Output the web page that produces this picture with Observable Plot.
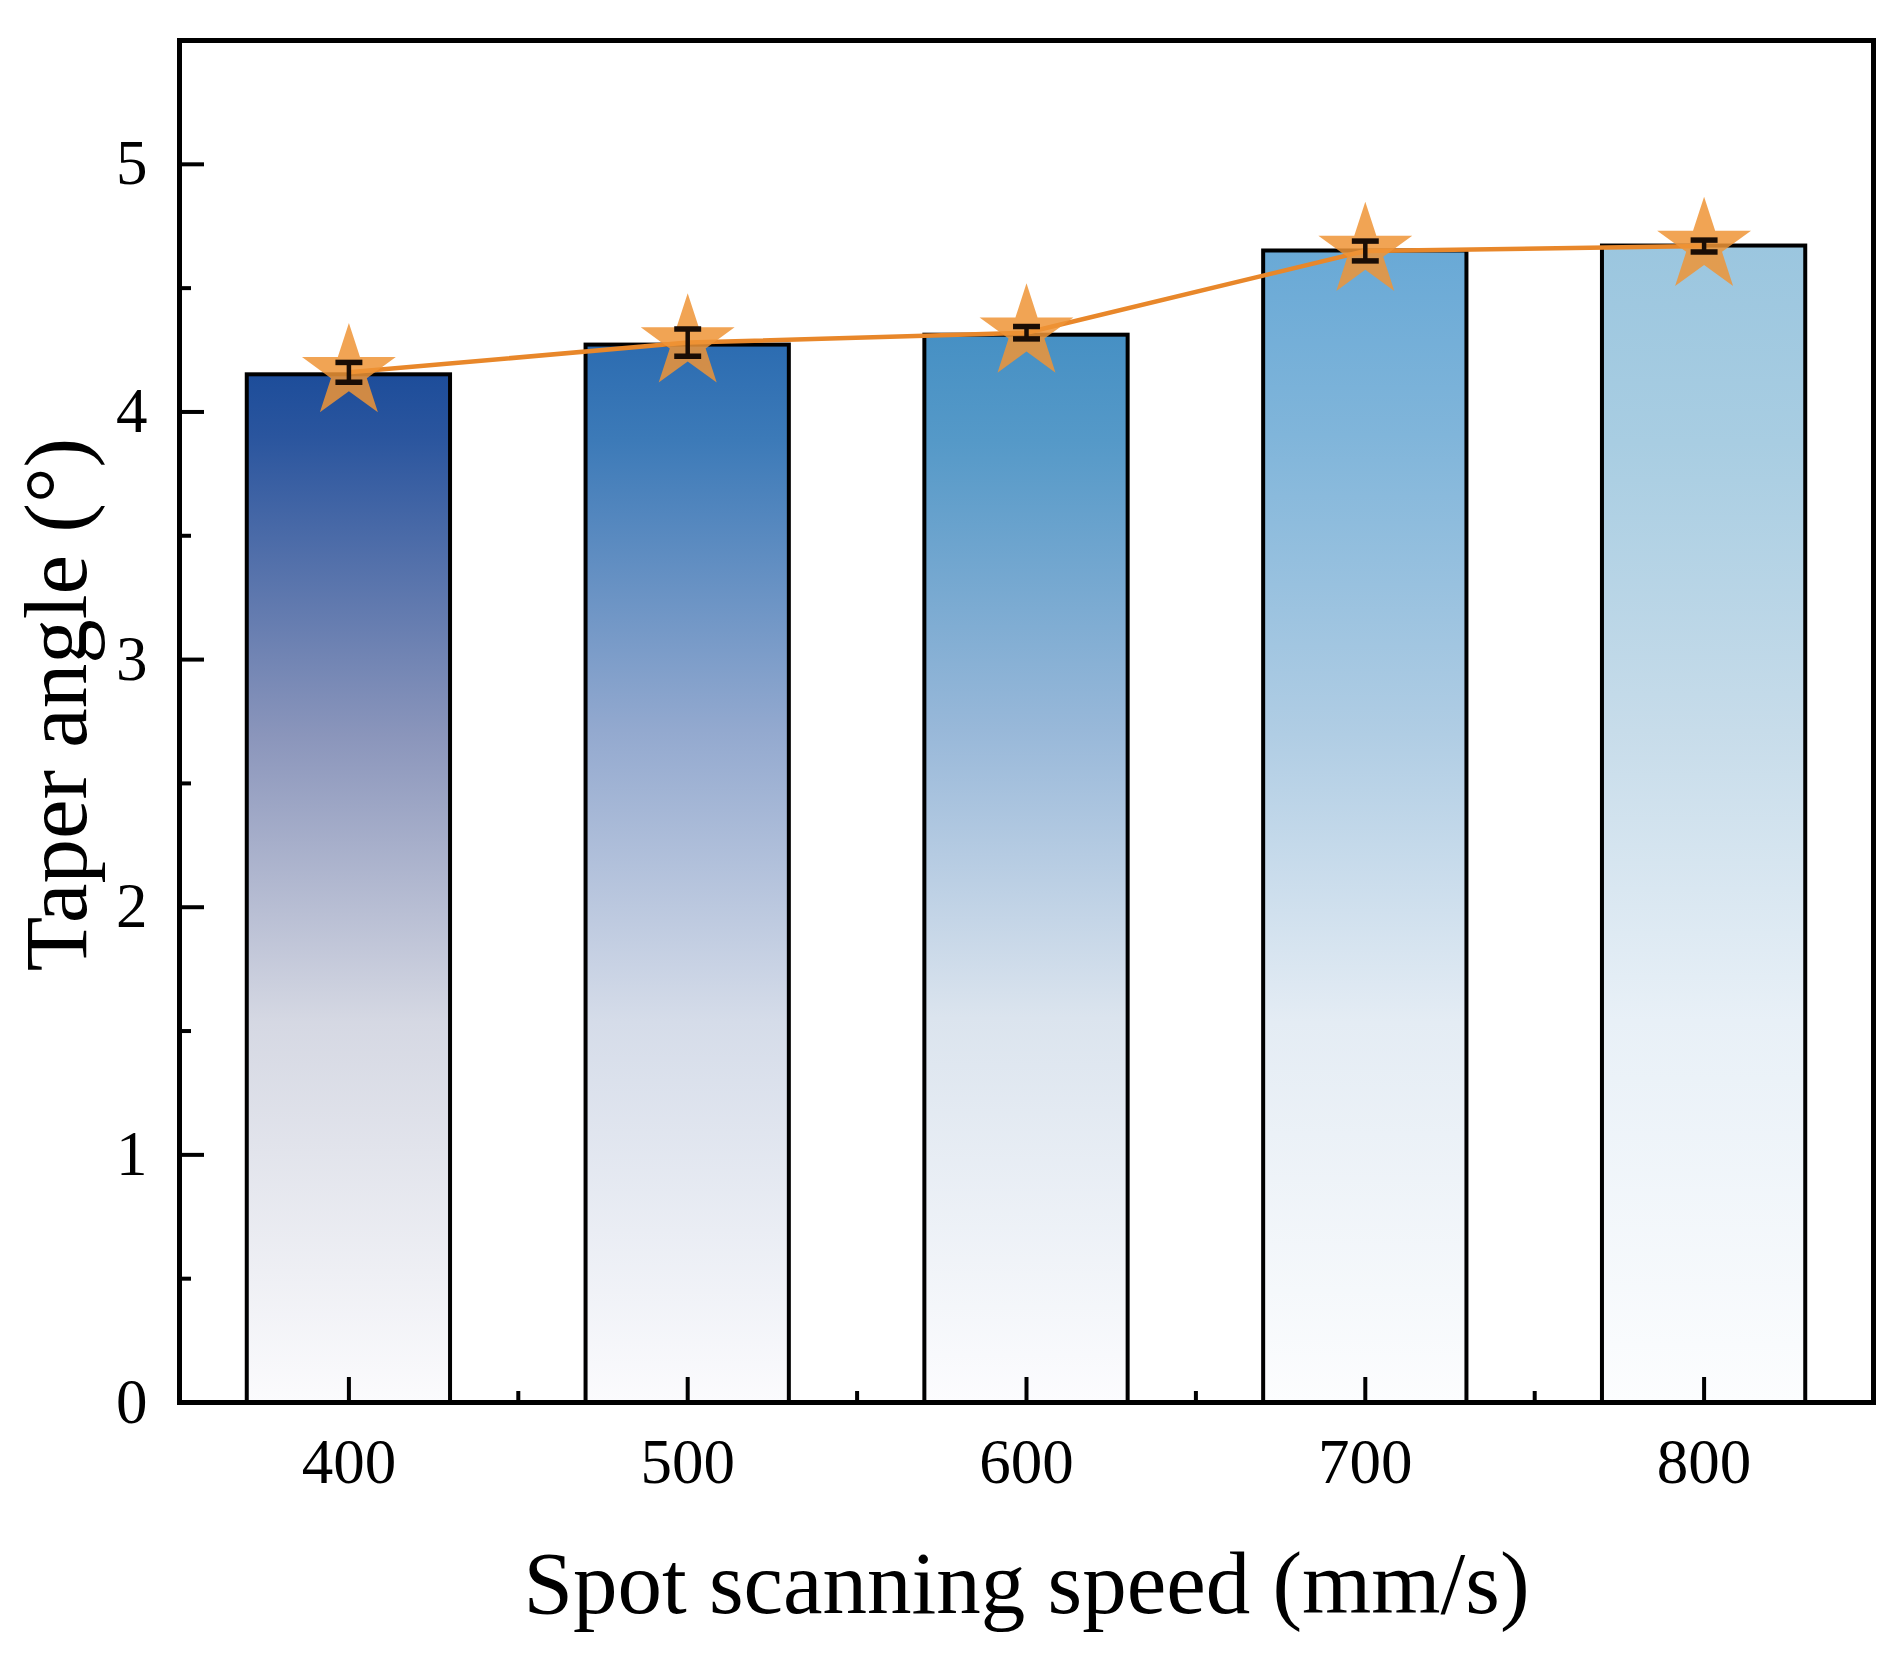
<!DOCTYPE html>
<html>
<head>
<meta charset="utf-8">
<script src="https://cdn.jsdelivr.net/npm/d3@7"></script>
<script src="https://cdn.jsdelivr.net/npm/@observablehq/plot@0.6"></script>
<style>
  html, body { margin: 0; padding: 0; background: #fff; }
  #chart svg { display: block; }
</style>
</head>
<body>
<div id="chart"></div>
<script>
// ---- data ----
const speeds = [400, 500, 600, 700, 800];          // spot scanning speed (mm/s)
const barAngle = [4.15, 4.27, 4.31, 4.65, 4.67];    // bar heights (°)
const meanAngle = [4.16, 4.28, 4.32, 4.65, 4.67];   // star / line values (°)
const errAngle = [0.04, 0.055, 0.025, 0.04, 0.024]; // error half-widths (°)
const yTicks = [0, 1, 2, 3, 4, 5];
const yMinorTicks = [0.5, 1.5, 2.5, 3.5, 4.5];
const xTicks = [400, 500, 600, 700, 800];
const xMinorTicks = [450, 550, 650, 750];
const xLabel = "Spot scanning speed (mm/s)";
const yLabel = "Taper angle (°)";

// ---- styles ----
const barHalfWidth = 30;
const gradientStops = [
  [[0, "#1d4d9a"], [0.06, "#2a559e"], [0.35, "#8a95bb"], [0.63, "#d5d8e3"], [1, "#fbfbfd"]],
  [[0, "#2c6cb1"], [0.09, "#3c7ab8"], [0.365, "#93a9cf"], [0.64, "#d5dce9"], [1, "#fbfbfd"]],
  [[0, "#4690c4"], [0.10, "#5599c8"], [0.37, "#98b8d9"], [0.64, "#dbe4ee"], [1, "#fcfcfe"]],
  [[0, "#69a9d6"], [0.16, "#80b5da"], [0.42, "#b0cde4"], [0.67, "#e4ecf4"], [1, "#fcfdfe"]],
  [[0, "#9bc6df"], [0.17, "#a8cde2"], [0.42, "#c7dcea"], [0.67, "#e8f0f7"], [1, "#fcfdfe"]]
];

const data = speeds.map((s, i) => ({
  speed: s, bar: barAngle[i], mean: meanAngle[i], err: errAngle[i], fill: `url(#barGrad${i})`
}));

const capSymbol = {
  draw(context, size) {
    const w = Math.sqrt(size) / 2;
    context.moveTo(-w, 0);
    context.lineTo(w, 0);
  }
};

const noText = () => "";

const plot = Plot.plot({
  width: 1895,
  height: 1670,
  marginLeft: 179,
  marginRight: 22,
  marginTop: 40,
  marginBottom: 268,
  x: { domain: [350, 850] },
  y: { domain: [0, 5.5] },
  color: { type: "identity" },
  style: { fontFamily: "'Liberation Serif', 'Times New Roman', serif", fontSize: "63px", color: "#000", background: "#fff" },
  marks: [
    Plot.rectY(data, {
      x1: d => d.speed - barHalfWidth, x2: d => d.speed + barHalfWidth,
      y1: 0, y2: "bar", fill: "fill", stroke: "#000", strokeWidth: 4
    }),
    Plot.line(data, { x: "speed", y: "mean", stroke: "#e8872a", strokeWidth: 4.5 }),
    Plot.dot(data, { x: "speed", y: "mean", symbol: "star", r: 29.5, fill: "#ef9436", fillOpacity: 0.85, stroke: "none" }),
    Plot.ruleX(data, { x: "speed", y1: d => d.mean - d.err, y2: d => d.mean + d.err, stroke: "#1a0d05", strokeWidth: 4.5 }),
    Plot.dot(data, { x: "speed", y: d => d.mean - d.err, symbol: capSymbol, r: 15.2, fill: "none", stroke: "#1a0d05", strokeWidth: 5.5 }),
    Plot.dot(data, { x: "speed", y: d => d.mean + d.err, symbol: capSymbol, r: 15.2, fill: "none", stroke: "#1a0d05", strokeWidth: 5.5 }),
    Plot.frame({ stroke: "#000", strokeWidth: 5 }),
    Plot.axisY(yTicks, { tickSize: -25, strokeWidth: 4, tickFormat: noText, label: null }),
    Plot.axisY(yMinorTicks, { tickSize: -12, strokeWidth: 4, tickFormat: noText, label: null }),
    Plot.axisY(yTicks, { tickSize: 0, tickPadding: 32, tickFormat: d => String(d), label: null, fontSize: 63 }),
    Plot.axisX(xTicks, { tickSize: -25, strokeWidth: 4, tickFormat: noText, label: null }),
    Plot.axisX(xMinorTicks, { tickSize: -11, strokeWidth: 4, tickFormat: noText, label: null }),
    Plot.axisX(xTicks, { tickSize: 0, tickPadding: 36, tickFormat: d => String(d), label: null, fontSize: 63 }),
    Plot.text([xLabel], { text: d => d, frameAnchor: "bottom", textAnchor: "middle", dy: 182, fontSize: 89, lineAnchor: "middle", fill: "#000" }),
    Plot.text([yLabel], { text: d => d, frameAnchor: "left", textAnchor: "middle", rotate: -90, dx: -122, dy: -17, fontSize: 89, lineAnchor: "middle", fill: "#000" })
  ]
});

// gradient definitions for the bars
const svg = d3.select(plot);
const defs = svg.insert("defs", ":first-child");
gradientStops.forEach((stops, i) => {
  const g = defs.append("linearGradient")
    .attr("id", `barGrad${i}`)
    .attr("x1", 0).attr("y1", 0).attr("x2", 0).attr("y2", 1);
  stops.forEach(([o, c]) => g.append("stop").attr("offset", o).attr("stop-color", c));
});

document.getElementById("chart").appendChild(plot);
</script>
</body>
</html>
